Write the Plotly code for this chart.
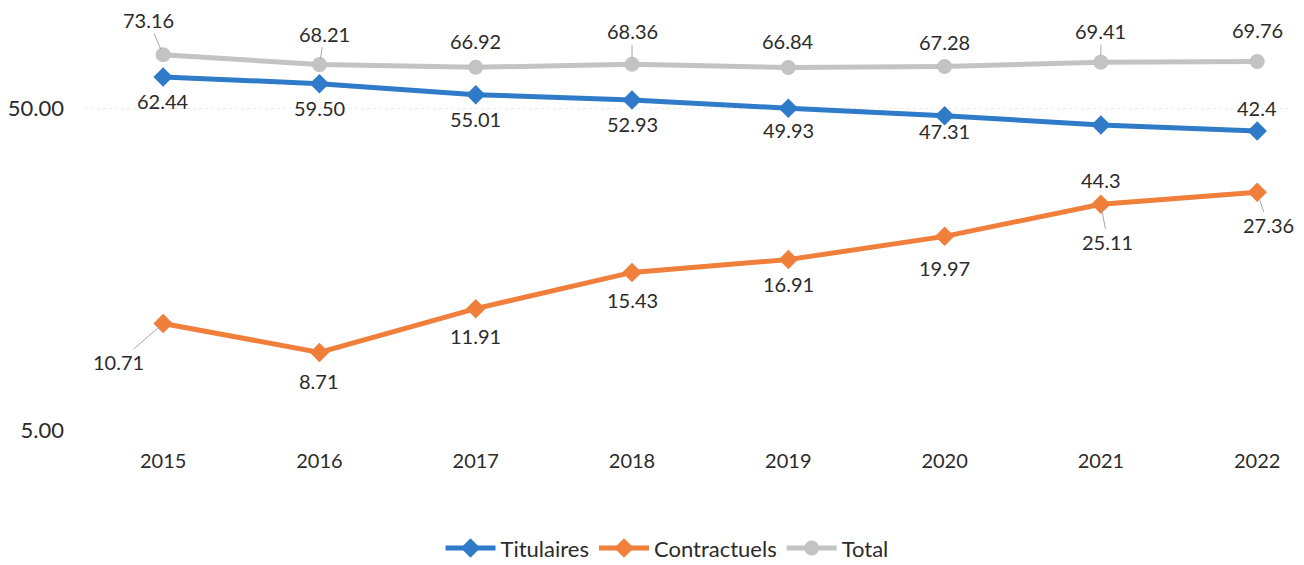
import math
import plotly.graph_objects as go

years = [2015, 2016, 2017, 2018, 2019, 2020, 2021, 2022]
titulaires = [62.44, 59.50, 55.01, 52.93, 49.93, 47.31, 44.3, 42.4]
contractuels = [10.71, 8.71, 11.91, 15.43, 16.91, 19.97, 25.11, 27.36]
total = [73.16, 68.21, 66.92, 68.36, 66.84, 67.28, 69.41, 69.76]

titulaires_txt = ["62.44", "59.50", "55.01", "52.93", "49.93", "47.31", "44.3", "42.4"]
contractuels_txt = ["10.71", "8.71", "11.91", "15.43", "16.91", "19.97", "25.11", "27.36"]
total_txt = ["73.16", "68.21", "66.92", "68.36", "66.84", "67.28", "69.41", "69.76"]

BLUE = "#2f7bc8"
ORANGE = "#f07f3c"
GREY = "#c3c3c3"
FONT = "Lato"

fig = go.Figure()
fig.add_trace(go.Scatter(x=years, y=titulaires, name="Titulaires", mode="lines+markers",
                         line=dict(color=BLUE, width=5),
                         marker=dict(symbol="diamond", size=15, color=BLUE)))
fig.add_trace(go.Scatter(x=years, y=contractuels, name="Contractuels", mode="lines+markers",
                         line=dict(color=ORANGE, width=5),
                         marker=dict(symbol="diamond", size=15, color=ORANGE)))
fig.add_trace(go.Scatter(x=years, y=total, name="Total", mode="lines+markers",
                         line=dict(color=GREY, width=5),
                         marker=dict(symbol="circle", size=15, color=GREY)))

# label offsets in pixels (dx, dy, leader line)
tot_off = [(-15, -35, True), (5, -31, True), (0, -26, False), (0, -33, True),
           (0, -26, False), (0, -25, False), (0, -31, True), (0, -31, False)]
tit_off = [(0, 24, False), (0, 24, False), (0, 24, False), (0, 24, False),
           (0, 22, False), (0, 15, False), (0, 55, False), (0, -23, False)]
con_off = [(-45, 39, True), (0, 29, False), (0, 27, False), (0, 28, False),
           (0, 24, False), (0, 32, False), (7, 38, True), (11, 33, True)]

for vals, txts, offs in [(total, total_txt, tot_off), (titulaires, titulaires_txt, tit_off),
                         (contractuels, contractuels_txt, con_off)]:
    for x, v, t, (dx, dy, lead) in zip(years, vals, txts, offs):
        fig.add_annotation(x=x, y=math.log10(v), text=t, ax=dx, ay=dy,
                           showarrow=True, arrowhead=0, arrowwidth=1,
                           arrowcolor="#a8a8a8" if lead else "rgba(0,0,0,0)",
                           standoff=6, startstandoff=0,
                           font=dict(family=FONT, size=20, color="#2b2b2b"))

fig.update_layout(
    width=1296, height=565,
    paper_bgcolor="white", plot_bgcolor="white",
    margin=dict(l=74, r=14, t=0, b=143),
    font=dict(family=FONT, size=20, color="#2b2b2b"),
    showlegend=True,
    legend=dict(orientation="h", x=0.483, xanchor="center", y=-0.28, yanchor="middle",
                font=dict(family=FONT, size=22), itemwidth=50),
    xaxis=dict(range=[2014.5, 2022.21], tickvals=years, showgrid=False, zeroline=False,
               showline=False, ticks="", ticklabelstandoff=17),
    yaxis=dict(type="log", range=[math.log10(5), 2.0096], tickvals=[5, 50],
               ticktext=["5.00", "50.00"], showgrid=True, gridcolor="#ececec",
               griddash="dot", zeroline=False, showline=False, ticks="",
               ticklabelstandoff=20, tickfont=dict(size=22)),
)

fig.write_html("out.html")
